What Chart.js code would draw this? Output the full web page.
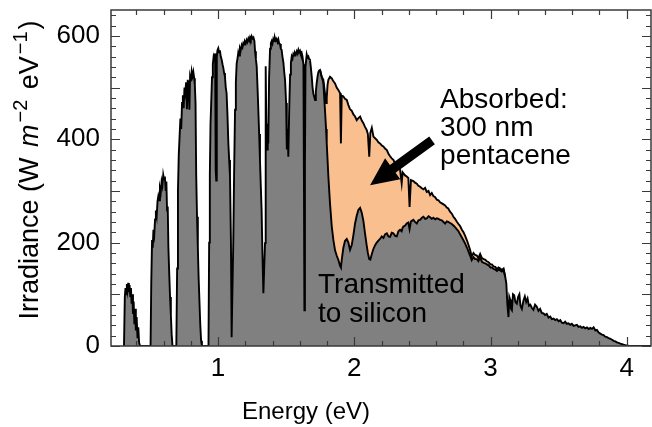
<!DOCTYPE html>
<html><head><meta charset="utf-8">
<script src="https://cdn.jsdelivr.net/npm/chart.js@4.4.1/dist/chart.umd.min.js"></script>
<style>html,body{margin:0;padding:0;background:#fff;}canvas{display:block;}</style>
</head><body>
<canvas id="c" width="652" height="427"></canvas>
<script>
// ---- data (Energy in eV, irradiance in W m^-2 eV^-1) ----
const energyBelowWindow = [
  0.310,0.316,0.321,0.326,0.331,0.336,0.341,0.346,0.351,0.356,0.361,0.366,0.371,0.376,0.381,0.386,0.391,0.397,0.403,0.409,0.415,0.421,0.428,0.505,
  0.510,0.516,0.521,0.526,0.532,0.538,0.544,0.550,0.556,0.562,0.568,0.574,0.580,0.586,0.592,0.598,0.604,0.610,0.616,0.621,0.626,0.631,0.636,0.642,0.648,0.654,0.660,0.666,0.694,
  0.700,0.706,0.712,0.718,0.724,0.730,0.736,0.742,0.748,0.754,0.760,0.766,0.772,0.778,0.784,0.790,0.795,0.801,0.807,0.813,0.819,0.825,0.830,0.835,0.840,0.846,0.852,0.858,0.864,0.870,0.876,0.882,0.930,
  0.935,0.940,0.945,0.950,0.956,0.962,0.968,0.974,0.979,0.983,0.987,0.991,0.996,1.002,1.008,1.014,1.020,1.027,1.033,1.039,1.045,1.051,1.057,1.063,1.069,1.076,1.082,1.088,1.095,1.100,
  1.106,1.112,1.118,1.125,1.131,1.137,1.143,1.149,1.155,1.161,1.167,1.174,1.180,1.186,1.192,1.198,1.204,1.210,1.216,1.223,1.229,1.235,1.241,1.247,1.253,1.260,1.267,1.272,1.278,1.284,
  1.290,1.296,1.302,1.308,1.314,1.320,1.326,1.333,1.339,1.345,1.350,1.355,1.360,1.365,1.369,1.375,1.382,1.388,1.394,1.400,1.406,1.412,1.418,1.424,1.430,1.437,1.443,1.449,1.455,1.461,
  1.467,1.473,1.480,1.486,1.492,1.500,1.505,1.512,1.516,1.522,1.529,1.535,1.541,1.547,1.553,1.559,1.565,1.571,1.578,1.584,1.590,1.596,1.602,1.608,1.614,1.620,1.627,1.631,1.634,1.638,
  1.642,1.651,1.657,1.663,1.669,1.675,1.681,1.688,1.694,1.700,1.706,1.712,1.718,1.724,1.731,1.737,1.743
];
const totalBelowWindow = [
  0,95,112,100,120,108,122,104,118,96,112,82,100,62,86,42,72,30,56,15,36,6,0,0,
  120,205,190,225,215,245,262,252,280,290,282,305,298,318,310,331,322,328,300,318,262,270,190,140,95,60,22,0,0,
  150,300,370,405,440,420,470,485,460,500,490,510,458,515,505,457,520,512,531,522,530,518,505,470,330,250,190,130,85,40,10,0,0,
  200,330,430,470,520,545,560,555,566,340,320,560,572,576,568,572,560,554,545,538,528,521,500,489,450,392,360,328,199,17,
  110,199,330,457,510,547,556,568,562,576,572,582,578,586,583,589,586,592,588,595,591,597,593,599,595,597,590,570,555,541,
  500,457,410,360,310,263,180,102,150,199,541,420,380,430,392,520,575,586,590,585,594,590,596,591,594,588,593,585,584,575,
  573,560,548,530,515,470,380,420,366,450,525,548,560,556,565,562,567,564,570,566,573,568,571,565,567,560,545,300,69,350,
  540,564,558,560,555,554,540,521,500,488,482,476,492,508,522,530,533
];
// window where the pentacene layer absorbs (both curves given)
const energyWindow = [
  1.749,1.761,1.773,1.785,1.793,1.798,1.804,1.810,1.822,1.835,1.847,1.859,1.871,1.884,1.896,1.902,1.908,1.920,1.932,1.945,
  1.957,1.969,1.982,1.994,2.006,2.018,2.030,2.043,2.055,2.067,2.079,2.091,2.100,2.110,2.118,2.129,2.141,2.153,2.165,2.177,
  2.189,2.202,2.214,2.226,2.239,2.251,2.263,2.275,2.287,2.300,2.312,2.324,2.336,2.348,2.355,2.361,2.373,2.385,2.397,2.406,
  2.416,2.434,2.446,2.459,2.471,2.483,2.496,2.508,2.520,2.532,2.545,2.557,2.569,2.581,2.594,2.606,2.618,2.630,2.643,2.655,
  2.667,2.679,2.690,2.703,2.716,2.728,2.740,2.752,2.765,2.777,2.790,2.802,2.814,2.826,2.838,2.850,2.862,2.875,2.887,2.900,
  2.911,2.924,2.937,2.950,2.960,2.973,2.986,3.000,3.010,3.022,3.035,3.047,3.059,3.071,3.083,3.096,3.108
];
const totalWindow = [
  534,521,515,489,470,480,505,515,521,518,512,508,500,495,489,392,485,483,478,476,
  466,458,455,448,444,437,441,444,436,431,424,418,410,366,412,422,405,402,399,394,
  392,388,386,382,379,372,367,363,360,353,347,344,341,315,336,334,330,328,325,269,
  321,319,316,314,310,308,305,303,306,298,300,292,296,290,288,283,282,278,276,274,
  272,268,266,260,256,250,246,241,236,232,225,220,213,205,196,186,173,180,176,175,
  170,178,170,168,167,164,162,158,158,154,153,149,152,150,147,150,134
];
const transmittedWindow = [
  534,521,510,457,420,392,360,328,276,231,205,185,175,166,155,152,166,190,203,207,
  200,186,196,215,237,252,263,267,258,242,218,195,180,168,167,178,188,195,200,204,
  207,212,209,216,218,212,211,219,218,213,212,222,225,222,229,231,233,237,239,226,
  241,244,240,237,243,244,248,250,246,247,251,249,246,248,245,247,246,244,243,240,
  237,241,240,238,236,233,230,226,222,216,210,204,198,191,183,175,166,172,168,168,
  164,171,163,161,160,158,156,152,152,149,148,145,148,146,144,147,134
];
const energyAboveWindow = [
  3.116,3.124,3.132,3.138,3.144,3.150,3.157,3.165,3.174,3.183,3.193,3.203,3.212,3.220,3.230,3.242,3.252,3.262,3.272,3.282,
  3.292,3.303,3.315,3.327,3.340,3.352,3.364,3.376,3.389,3.400,3.413,3.426,3.438,3.450,3.463,3.475,3.487,3.500,3.512,3.524,
  3.536,3.548,3.560,3.572,3.585,3.597,3.610,3.622,3.634,3.646,3.659,3.671,3.683,3.695,3.708,3.720,3.732,3.745,3.757,3.770,
  3.781,3.794,3.806,3.818,3.830,3.842,3.855,3.867,3.880,3.892,3.904,3.916,3.928,3.940,3.953,3.965,3.977,3.990,4.000,4.020,4.180
];
const totalAboveWindow = [
  121,80,56,95,90,72,69,100,98,85,82,95,100,78,72,88,96,85,92,78,
  80,74,70,80,76,68,72,64,63,60,62,55,57,52,53,50,52,48,50,45,
  44,47,43,44,41,43,39,40,41,37,38,35,37,34,36,33,35,33,36,30,
  31,26,24,22,21,18,17,15,14,12,10,9,7,6,4.5,3.5,2.5,1.5,1,0,0
];
const xTickValues = [1, 2, 3, 4];
const yTickValues = [0, 200, 400, 600];
const xTitle = 'Energy (eV)';
const absorbedLabel = ['Absorbed:', '300 nm', 'pentacene'];
const transmittedLabel = ['Transmitted', 'to silicon'];

// ---- build datasets from the arrays ----
const energyAll = [...energyBelowWindow, ...energyWindow, ...energyAboveWindow];
const totalAll = [...totalBelowWindow, ...totalWindow, ...totalAboveWindow];
const totalPoints = energyAll.map((e, i) => ({x: e, y: totalAll[i]}));
const transmittedPoints = energyWindow.map((e, i) => ({x: e, y: transmittedWindow[i]}));

const FONT = '"Liberation Sans", Arial, Helvetica, sans-serif';
const FRAME = '#3a3a3a';

const decorPlugin = {
  id: 'decor',
  afterDatasetsDraw(chart) {
    const {ctx, chartArea: a, scales: {x, y}} = chart;
    ctx.save();
    // frame
    ctx.strokeStyle = FRAME;
    ctx.lineWidth = 1.5;
    ctx.strokeRect(a.left, a.top, a.right - a.left, a.bottom - a.top);
    // inward ticks on all four sides
    ctx.lineWidth = 1.2;
    ctx.beginPath();
    for (let k = 1; k <= 21; k++) {
      const v = k * 0.2;
      if (v < x.min || v > x.max) continue;
      const px = Math.round(x.getPixelForValue(v)) + 0.5;
      const len = (k % 5 === 0) ? 9 : 5;
      ctx.moveTo(px, a.bottom); ctx.lineTo(px, a.bottom - len);
      ctx.moveTo(px, a.top); ctx.lineTo(px, a.top + len);
    }
    for (let k = 0; k <= 32; k++) {
      const v = k * 20;
      const py = Math.round(y.getPixelForValue(v)) + 0.5;
      const len = (k % 5 === 0) ? 9 : 5;
      ctx.moveTo(a.left, py); ctx.lineTo(a.left + len, py);
      ctx.moveTo(a.right, py); ctx.lineTo(a.right - len, py);
    }
    ctx.stroke();

    // annotations
    ctx.fillStyle = '#000';
    ctx.font = '28px ' + FONT;
    ctx.textAlign = 'left';
    ctx.textBaseline = 'alphabetic';
    let ax = x.getPixelForValue(2.63), ay = y.getPixelForValue(460);
    absorbedLabel.forEach((t, i) => ctx.fillText(t, ax, ay + i * 28));
    let tx = x.getPixelForValue(1.734), ty = y.getPixelForValue(102);
    transmittedLabel.forEach((t, i) => ctx.fillText(t, tx, ty + i * 28.5));

    // arrow
    const T = {x: x.getPixelForValue(2.571), y: y.getPixelForValue(398)};
    const P = {x: x.getPixelForValue(2.116), y: y.getPixelForValue(311)};
    const dx = P.x - T.x, dy = P.y - T.y, L = Math.hypot(dx, dy);
    const ux = dx / L, uy = dy / L, nx = -uy, ny = ux;
    const hl = 28, hw = 13, sw = 4.8;
    const B = {x: P.x - ux * hl, y: P.y - uy * hl};
    ctx.beginPath();
    ctx.moveTo(T.x + nx * sw, T.y + ny * sw);
    ctx.lineTo(B.x + nx * sw, B.y + ny * sw);
    ctx.lineTo(B.x + nx * hw, B.y + ny * hw);
    ctx.lineTo(P.x, P.y);
    ctx.lineTo(B.x - nx * hw, B.y - ny * hw);
    ctx.lineTo(B.x - nx * sw, B.y - ny * sw);
    ctx.lineTo(T.x - nx * sw, T.y - ny * sw);
    ctx.closePath();
    ctx.fill();

    // x title
    ctx.font = '24px ' + FONT;
    ctx.textAlign = 'center';
    ctx.fillText(xTitle, 306, 419);

    // y title with italic m and superscripts
    const big = 27, small = 20;
    const parts = [
      {t: 'Irradiance (W ', f: big + 'px ' + FONT, r: 0, g: 3},
      {t: 'm', f: 'italic ' + big + 'px ' + FONT, r: 0, g: 2},
      {t: '\u22122', f: small + 'px ' + FONT, r: -11, g: 3},
      {t: ' eV', f: big + 'px ' + FONT, r: 0, g: 2},
      {t: '\u22121', f: small + 'px ' + FONT, r: -11, g: 2},
      {t: ')', f: big + 'px ' + FONT, r: 0, g: 0}
    ];
    let W = 0;
    parts.forEach(p => { ctx.font = p.f; p.w = ctx.measureText(p.t).width; W += p.w + p.g; });
    ctx.translate(38, 170);
    ctx.rotate(-Math.PI / 2);
    ctx.textAlign = 'left';
    let cx = -W / 2;
    parts.forEach(p => { ctx.font = p.f; ctx.fillText(p.t, cx, p.r); cx += p.w + p.g; });
    ctx.restore();
  }
};

new Chart(document.getElementById('c'), {
  type: 'line',
  data: {
    datasets: [
      {
        label: 'Transmitted to silicon',
        data: transmittedPoints,
        borderColor: '#000', borderWidth: 1.9,
        backgroundColor: '#f9bf8f',
        fill: '+1',
        pointRadius: 0, tension: 0, order: 1
      },
      {
        label: 'Total irradiance',
        data: totalPoints,
        borderColor: '#000', borderWidth: 1.9,
        backgroundColor: '#808080',
        fill: 'origin',
        pointRadius: 0, tension: 0, order: 2
      }
    ]
  },
  options: {
    responsive: false, animation: false, devicePixelRatio: 1,
    layout: {padding: {left: 0, right: 1, top: 10, bottom: 0}},
    plugins: {
      legend: {display: false}, tooltip: {enabled: false},
      filler: {drawTime: 'beforeDatasetsDraw'}
    },
    scales: {
      x: {
        type: 'linear', min: 0.2146, max: 4.178,
        grid: {display: false, drawTicks: false}, border: {display: false},
        ticks: {color: '#000', font: {size: 26, family: FONT}, padding: 7, maxRotation: 0, autoSkip: false},
        afterBuildTicks: s => { s.ticks = xTickValues.map(v => ({value: v})); },
        afterFit: s => { s.height = 81; s.paddingLeft = 0; s.paddingRight = 0; }
      },
      y: {
        type: 'linear', min: 0, max: 650,
        grid: {display: false, drawTicks: false}, border: {display: false},
        ticks: {color: '#000', font: {size: 26, family: FONT}, padding: 11},
        afterBuildTicks: s => { s.ticks = yTickValues.map(v => ({value: v})); },
        afterFit: s => { s.width = 111; s.paddingTop = 0; s.paddingBottom = 0; }
      }
    }
  },
  plugins: [decorPlugin]
});
</script>
</body></html>
